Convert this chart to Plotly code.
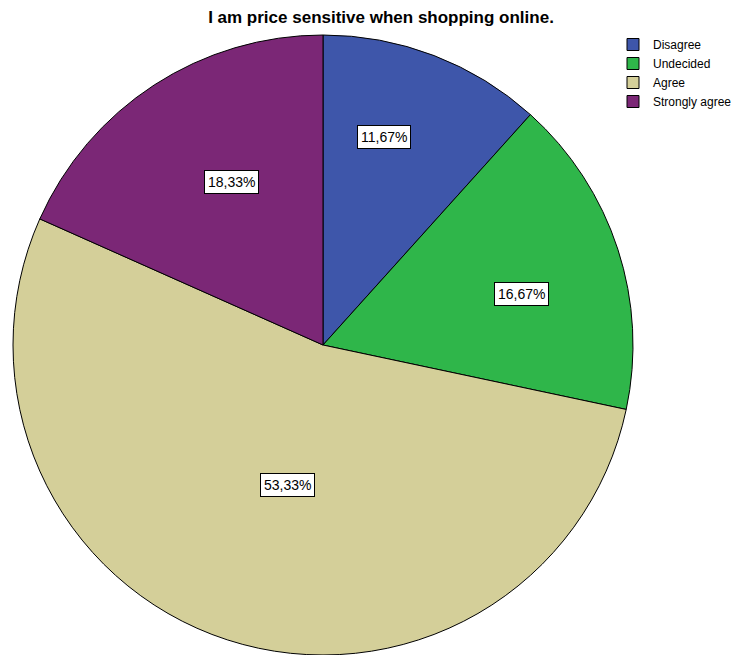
import math
import plotly.graph_objects as go

categories = ["Disagree", "Undecided", "Agree", "Strongly agree"]
counts = [7, 10, 32, 11]
colors = ["#3E56AA", "#2FB64A", "#D4CF99", "#7B2776"]
# label placement within each slice: angular fraction along slice, radial fraction of radius
label_ang_frac = [0.39, 0.56, 0.48, 0.555]
label_rad_frac = [0.70, 0.66, 0.465, 0.605]

W, H = 755, 655
OFF = 8  # page body margin
cx, cy, R = 323 - OFF, 345 - OFF, 310

fig = go.Figure(go.Pie(
    labels=categories, values=counts, sort=False, direction="clockwise", rotation=0,
    marker=dict(colors=colors, line=dict(color="black", width=1)),
    textinfo="none", hoverinfo="label+percent",
    domain=dict(x=[(cx - R) / W, (cx + R) / W], y=[(H - cy - R) / H, (H - cy + R) / H]),
))

total = sum(counts)
cum = 0
for c, af, rf in zip(counts, label_ang_frac, label_rad_frac):
    ang = (cum + c * af) / total * 2 * math.pi
    cum += c
    x = cx + rf * R * math.sin(ang)
    y = cy - rf * R * math.cos(ang)
    txt = f"{100 * c / total:.2f}%".replace(".", ",")
    fig.add_annotation(x=x / W, y=1 - y / H, xref="paper", yref="paper", text=txt,
                       xanchor="center", yanchor="middle",
                       showarrow=False, bgcolor="white", bordercolor="black", borderwidth=1,
                       borderpad=3, font=dict(family="Liberation Sans, Arial", size=14, color="black"))

fig.update_layout(
    width=W, height=H, margin=dict(l=0, r=0, t=0, b=0, autoexpand=False),
    paper_bgcolor="white", plot_bgcolor="white",
    title=dict(text="<b>I am price sensitive when shopping online.</b>", x=(381 - OFF) / W, xanchor="center",
               y=1 - (17 - OFF) / H, yanchor="middle",
               font=dict(family="Liberation Sans, Arial", size=17, color="black")),
    legend=dict(x=(613 - OFF) / W, y=1 - (30 - OFF) / H, xanchor="left", yanchor="top",
                font=dict(family="Liberation Sans, Arial", size=12, color="black"),
                itemwidth=30, tracegroupgap=0, bgcolor="rgba(0,0,0,0)"),
    font=dict(family="Liberation Sans, Arial"),
)

fig.write_html("out.html")
